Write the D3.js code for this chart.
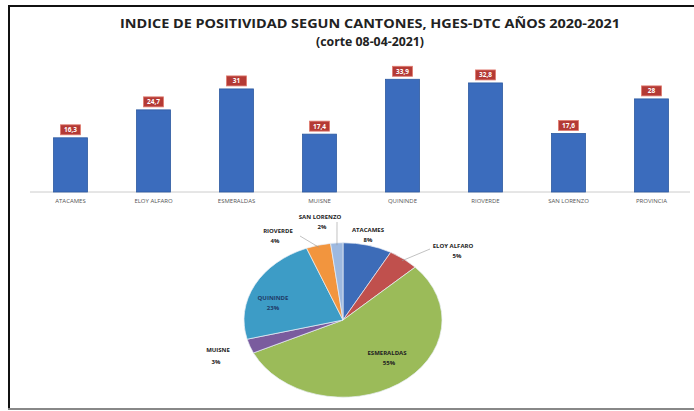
<!DOCTYPE html>
<html>
<head>
<meta charset="utf-8">
<script src="https://cdn.jsdelivr.net/npm/d3@7"></script>
<style>
  body { margin: 0; background: #fff; }
  text { font-family: "Open Sans", "Liberation Sans", sans-serif; }
</style>
</head>
<body>
<svg id="chart" width="694" height="411"></svg>
<script>
// bar data
const cantones = ["ATACAMES", "ELOY ALFARO", "ESMERALDAS", "MUISNE", "QUININDE", "RIOVERDE", "SAN LORENZO", "PROVINCIA"];
const indice = [16.3, 24.7, 31, 17.4, 33.9, 32.8, 17.6, 28];

// pie data
const pieNames = ["ATACAMES", "ELOY ALFARO", "ESMERALDAS", "MUISNE", "QUININDE", "RIOVERDE", "SAN LORENZO"];
const piePct = [8, 5, 55, 3, 23, 4, 2];
const pieColors = ["#3d6cb8", "#c0504d", "#9bbb59", "#7a5c9e", "#3d9cc6", "#f2953e", "#9db9e0"];

const svg = d3.select("#chart");

// frame
svg.append("rect").attr("x", 0).attr("y", 0).attr("width", 694).attr("height", 411).attr("fill", "#fff");
svg.append("line").attr("x1", 9).attr("x2", 9).attr("y1", 6).attr("y2", 410)
  .attr("stroke", "#111").attr("stroke-width", 2);
svg.append("line").attr("x1", 8).attr("x2", 694).attr("y1", 6).attr("y2", 6)
  .attr("stroke", "#111").attr("stroke-width", 2);
svg.append("line").attr("x1", 8).attr("x2", 694).attr("y1", 409).attr("y2", 409)
  .attr("stroke", "#888").attr("stroke-width", 2);

// titles
svg.append("text").attr("x", 370).attr("y", 28).attr("text-anchor", "middle")
  .attr("font-size", 12.5).attr("font-weight", "bold").attr("fill", "#222")
  .attr("textLength", 500).attr("lengthAdjust", "spacingAndGlyphs")
  .text("INDICE DE POSITIVIDAD SEGUN CANTONES, HGES-DTC AÑOS 2020-2021");
svg.append("text").attr("x", 370).attr("y", 46).attr("text-anchor", "middle")
  .attr("font-size", 12.5).attr("font-weight", "bold").attr("fill", "#222")
  .attr("textLength", 108).attr("lengthAdjust", "spacingAndGlyphs")
  .text("(corte 08-04-2021)");

// bar chart
const x = d3.scaleBand().domain(cantones).range([29, 693]).paddingInner(0.59).paddingOuter(0.295);
const y = d3.scaleLinear().domain([0, 40]).range([192, 59]);

const xAxis = svg.append("g").attr("transform", "translate(0,192)")
  .call(d3.axisBottom(x).tickSize(0).tickPadding(7));
xAxis.select(".domain").attr("stroke", "#ccc").attr("d", "M30,0H690");
xAxis.selectAll("text").attr("font-size", 6).attr("fill", "#555")
  .attr("font-family", "\"Open Sans\", sans-serif");

const bars = svg.selectAll(".bar").data(indice).enter().append("g").attr("class", "bar");
bars.append("rect")
  .attr("x", (d, i) => x(cantones[i]))
  .attr("y", d => y(d))
  .attr("width", x.bandwidth())
  .attr("height", d => y(0) - y(d))
  .attr("fill", "#3b6cbd")
  .attr("stroke", "#2d5aa0").attr("stroke-width", 0.8);

const fmt = d => String(d).replace(".", ",");
bars.append("rect")
  .attr("x", (d, i) => x(cantones[i]) + x.bandwidth() / 2 - 10)
  .attr("y", d => y(d) - 13)
  .attr("width", 20).attr("height", 10)
  .attr("fill", "#b43a35").attr("stroke", "#e07a6e").attr("stroke-width", 0.8);
bars.append("text")
  .attr("x", (d, i) => x(cantones[i]) + x.bandwidth() / 2)
  .attr("y", d => y(d) - 5.5)
  .attr("text-anchor", "middle")
  .attr("font-size", 6.5).attr("font-weight", "bold").attr("fill", "#fff")
  .text(fmt);

// pie chart
const cx = 343, cy = 320, r = 99, squash = 0.78;
const pie = d3.pie().sort(null).value(d => d);
const arc = d3.arc().innerRadius(0).outerRadius(r);
const arcs = pie(piePct);

const pg = svg.append("g").attr("transform", `translate(${cx},${cy}) scale(1,${squash})`);
pg.selectAll("path").data(arcs).enter().append("path")
  .attr("d", arc)
  .attr("fill", (d, i) => pieColors[i])
  .attr("stroke", "#e8eef5").attr("stroke-width", 0.8);

// pie labels: [name x, name y, pct x, pct y]
const labelPos = [
  [368, 232, 368, 242],
  [453, 248, 457, 258],
  [387, 355, 389, 365],
  [218, 352, 216, 364],
  [273, 300, 273, 310],
  [278, 233, 275, 243],
  [320, 219, 322, 229]
];

// leader lines
const leaderFrom = (i, k) => {
  const a = (arcs[i].startAngle + arcs[i].endAngle) / 2;
  return [cx + Math.sin(a) * r * k, cy - Math.cos(a) * r * k * squash];
};
const leaders = [
  [1, [430, 249]],
  [5, [300, 236]],
  [6, [337, 222]]
];
leaders.forEach(([i, pt]) => {
  const p = leaderFrom(i, 0.97);
  svg.append("path")
    .attr("d", `M${pt[0]},${pt[1]}L${p[0]},${p[1]}`)
    .attr("stroke", "#999").attr("stroke-width", 0.6).attr("fill", "none");
});

const pl = svg.selectAll(".plab").data(pieNames).enter().append("g").attr("class", "plab");
pl.append("text")
  .attr("x", (d, i) => labelPos[i][0]).attr("y", (d, i) => labelPos[i][1])
  .attr("text-anchor", "middle").attr("font-size", 6).attr("font-weight", "bold")
  .attr("fill", (d, i) => i === 4 ? "#1f3a66" : "#222")
  .text(d => d);
pl.append("text")
  .attr("x", (d, i) => labelPos[i][2]).attr("y", (d, i) => labelPos[i][3])
  .attr("text-anchor", "middle").attr("font-size", 6).attr("font-weight", "bold")
  .attr("fill", (d, i) => i === 4 ? "#1f3a66" : "#222")
  .text((d, i) => piePct[i] + "%");
</script>
</body>
</html>
